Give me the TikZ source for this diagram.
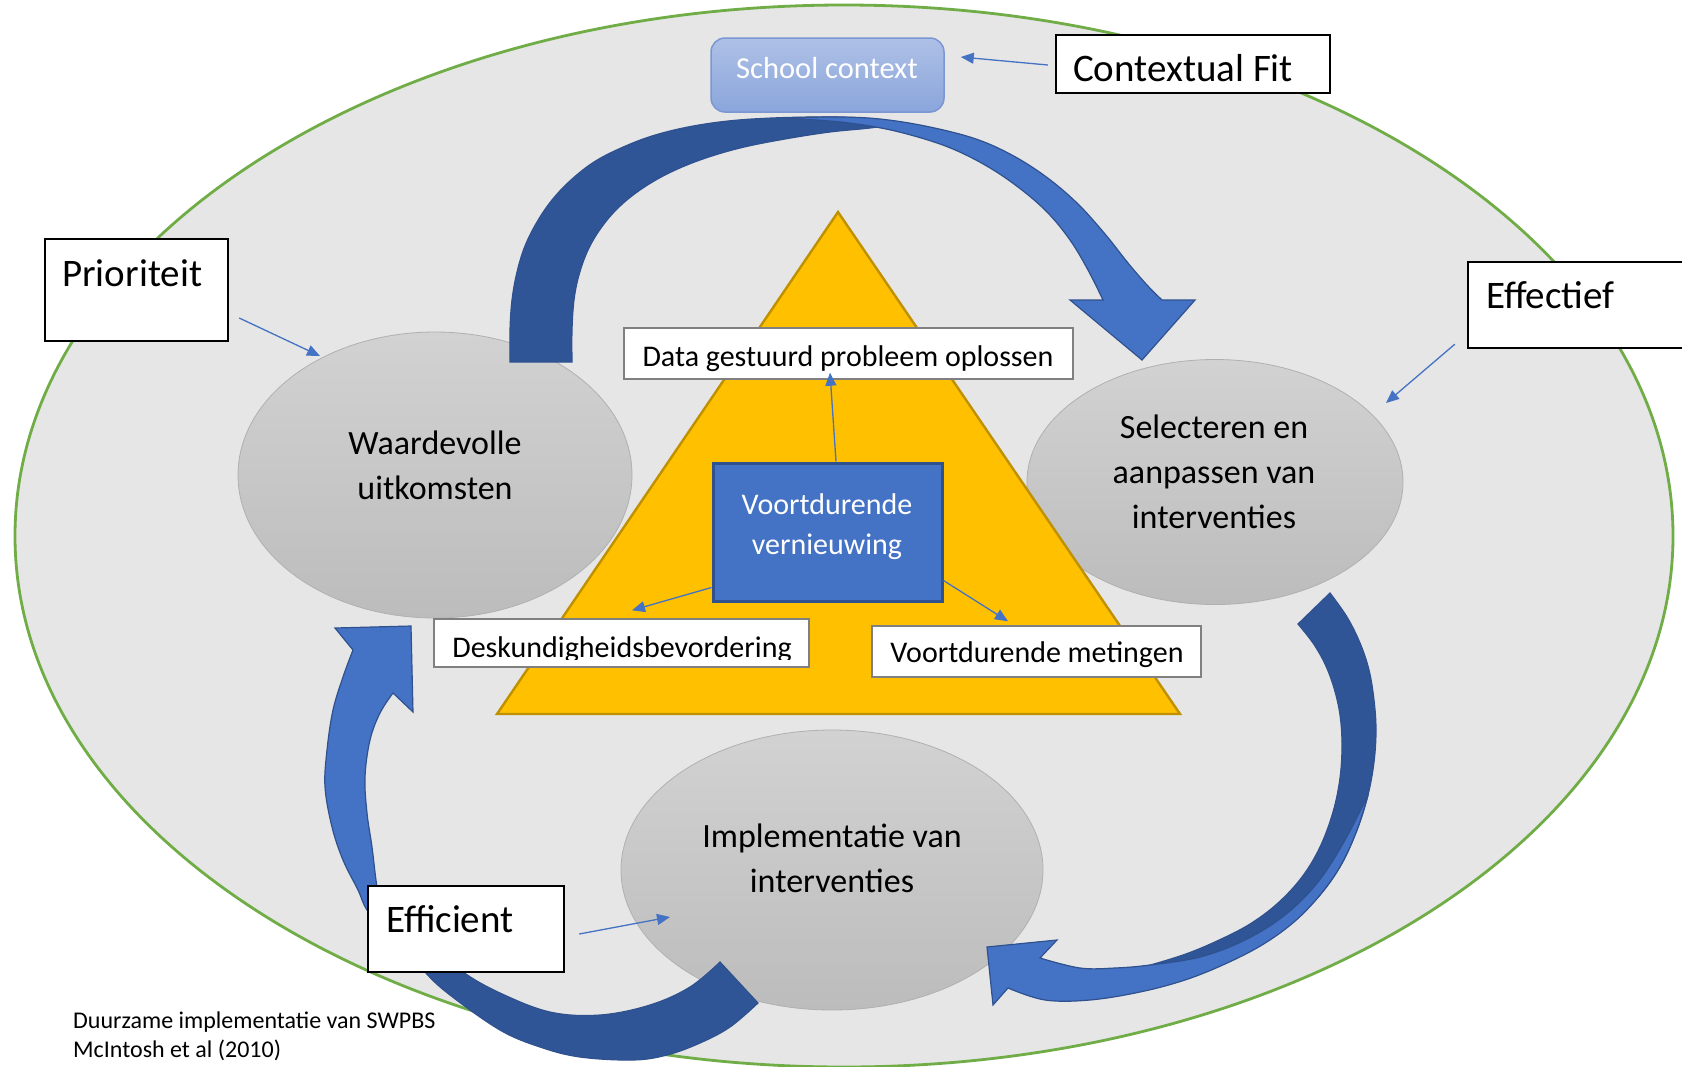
\documentclass[tikz,border=0pt]{standalone}
\usepackage{fontspec}
\setmainfont{Carlito}
\usetikzlibrary{shapes.geometric,arrows.meta,calc}
\definecolor{bgell}{HTML}{E7E6E6}
\definecolor{ellgreen}{HTML}{70AD47}
\definecolor{blueL}{HTML}{4472C4}
\definecolor{blueD}{HTML}{2F5597}
\definecolor{blueB}{HTML}{2F528F}
\definecolor{goldF}{HTML}{FFC000}
\definecolor{goldB}{HTML}{BF9000}
\definecolor{schoolT}{HTML}{AEC0E6}
\definecolor{schoolB}{HTML}{8AA6DB}
\definecolor{schoolD}{HTML}{7A97D3}
\definecolor{grayT}{HTML}{D2D2D2}
\definecolor{grayB}{HTML}{BCBCBC}
\definecolor{grayD}{HTML}{B0B0B0}
\definecolor{boxgray}{HTML}{808080}
\newcommand\myfs[2]{\fontsize{#1}{#2}\selectfont}
\begin{document}
\begin{tikzpicture}[x=1pt,y=-1pt,
  lbox/.style={draw=black, line width=2.4pt, fill=white, inner sep=0pt},
  wbox/.style={draw=boxgray, line width=1.4pt, fill=white, inner sep=0pt},
  gell/.style={ellipse, draw=grayD, line width=0.8pt, top color=grayT, bottom color=grayB, inner sep=0pt},
  ltxt/.style={font=\myfs{39}{47}, inner sep=0pt, text=black},
  etxt/.style={font=\myfs{34}{45}, align=center, inner sep=0pt, text=black},
  btxt/.style={font=\myfs{30}{40}, inner sep=0pt, text=black},
  sarr/.style={draw=blueL, line width=1.3pt, -{Triangle[length=13pt,width=11pt]}},
  bigL/.style={fill=blueL, draw=blueB, line width=1.2pt},
  bigD/.style={fill=blueD, draw=blueB, line width=1.2pt}]
\useasboundingbox (0,0) rectangle (1682,1066);
\clip (0,0) rectangle (1682,1066);
\fill[white] (0,0) rectangle (1682,1066);
% outer ellipse
\filldraw[fill=bgell, draw=ellgreen, line width=2.8pt] (844,536) ellipse [x radius=829pt, y radius=531pt];
% gray ellipses
\node[gell, minimum width=394pt, minimum height=286pt] (waard) at (435,475) {};
\node[gell, minimum width=376pt, minimum height=245pt] (sel) at (1215,482) {};
\node[gell, minimum width=422pt, minimum height=280pt] (impl) at (832,870) {};
\node[etxt] (waardtxt) at (435,465) {Waardevolle\\uitkomsten};
\node[etxt] (seltxt) at (1214,472) {Selecteren en\\aanpassen van\\interventies};
\node[etxt] (impltxt) at (832,858) {Implementatie van\\interventies};
% triangle
\filldraw[fill=goldF, draw=goldB, line width=2.4pt, line join=miter] (838,212) -- (1180,714) -- (497,714) -- cycle;
% big arrow A (top)
\filldraw[bigD] plot[smooth,tension=.6] coordinates {(510,362) (510,330) (512,300) (517,272) (525,246) (537,222) (552,200) (571,180) (594,162) (621,148) (652,136) (688,127) (728,121) (772,118) (820,117) (860,118) (905,123)}
  -- plot[smooth,tension=.6] coordinates {(905,123) (870,128) (830,132) (785,139) (740,148) (700,160) (667,174) (640,190) (618,208) (601,228) (588,250) (579,275) (574,300) (572,330) (572,362)} -- cycle;
\filldraw[bigL] plot[smooth,tension=.6] coordinates {(780,118) (838,117) (880,119) (925,126) (973,138) (1010,154) (1045,176) (1077,203) (1105,234) (1128,263) (1147,285) (1162,300)}
  -- (1195,300) -- (1142,360) -- (1070,300)
  -- plot[smooth,tension=.6] coordinates {(1103,300) (1088,270) (1070,240) (1047,212) (1018,187) (985,165) (948,147) (907,134) (870,126) (830,121) (780,118)} -- cycle;
% big arrow B (right)
\filldraw[bigD] plot[smooth,tension=.6] coordinates {(1330,593) (1347,617) (1360,643) (1369,670) (1374,700) (1376,730) (1374,762) (1368,795) (1357,830) (1341,865) (1320,895) (1294,920) (1262,940) (1225,956) (1180,965) (1140,968)}
  -- plot[smooth,tension=.6] coordinates {(1140,968) (1183,955) (1217,941) (1250,924) (1278,903) (1302,877) (1320,847) (1333,812) (1340,778) (1342,745) (1340,715) (1334,688) (1325,664) (1313,643) (1298,624)} -- cycle;
\filldraw[bigL] plot[smooth,tension=.6] coordinates {(1368,795) (1357,830) (1341,865) (1320,895) (1294,922) (1262,945) (1225,964) (1185,980) (1140,992) (1090,1000) (1045,1000) (1008,988)}
  -- (993,1005) -- (987,947) -- (1057,940)
  -- plot[smooth,tension=.6] coordinates {(1040,958) (1080,968) (1115,968) (1150,965) (1200,957) (1245,940) (1285,915) (1318,882) (1345,840) (1368,795)} -- cycle;
% big arrow C (bottom-left)
\filldraw[bigD] plot[smooth,tension=.6] coordinates {(758,1003) (730,1027) (700,1043) (667,1055) (633,1060) (580,1057) (540,1047) (500,1030) (450,995) (425,972) (405,945) (395,915)}
  -- plot[smooth,tension=.6] coordinates {(395,915) (440,950) (463,972) (500,993) (550,1012) (600,1015) (650,1005) (690,987) (720,962)} -- cycle;
\filldraw[bigL] plot[smooth,tension=.6] coordinates {(385,930) (367,910) (358,890) (343,860) (332,827) (325,787) (327,750) (333,710) (343,677) (353,650)}
  -- (335,628) -- (411,626) -- (413,712)
  -- plot[smooth,tension=.6] coordinates {(393,693) (380,713) (370,740) (365,777) (367,813) (372,847) (377,887) (385,930)} -- cycle;
% school context
\node[draw=schoolD, line width=1.5pt, rounded corners=14pt, top color=schoolT, bottom color=schoolB, minimum width=233pt, minimum height=74pt, inner sep=0pt] (school) at (827.5,75) {};
\node[font=\myfs{30.5}{36}, text=white, inner sep=0pt] (schooltxt) at (827,68) {School context};
% centre box
\node[fill=blueL, draw=blueB, line width=3pt, minimum width=229pt, minimum height=138pt, inner sep=0pt] (vern) at (827.5,532) {};
\node[font=\myfs{30}{40}, text=white, align=center, inner sep=0pt] (verntxt) at (827,526.5) {Voortdurende\\vernieuwing};
% white boxes
\node[wbox, minimum width=449pt, minimum height=51pt] (data) at (848.5,353.5) {};
\node[btxt, anchor=base] (datatxt) at (848,366) {Data gestuurd probleem oplossen};
\node[wbox, minimum width=375pt, minimum height=48pt] (desk) at (621.5,643) {};
\begin{scope}
\clip (434,619) rectangle (809,659);
\node[btxt, anchor=base] (desktxt) at (622,657) {Deskundigheidsbevordering};
\end{scope}
\node[wbox, minimum width=329pt, minimum height=51pt] (met) at (1036.5,651.5) {};
\node[btxt, anchor=base] (mettxt) at (1037,662) {Voortdurende metingen};
% label boxes
\node[lbox, minimum width=274pt, minimum height=58pt] (cfit) at (1193,64) {};
\node[ltxt, anchor=base west] (cfittxt) at (1073,81) {Contextual Fit};
\node[lbox, minimum width=183pt, minimum height=102pt] (prio) at (136.5,290) {};
\node[ltxt, anchor=base west] (priotxt) at (62,286) {Prioriteit};
\node[lbox, minimum width=240pt, minimum height=86pt] (eff) at (1588,305) {};
\node[ltxt, anchor=base west] (efftxt) at (1486,308) {Effectief};
\node[lbox, minimum width=196pt, minimum height=86pt] (effic) at (466,929) {};
\node[ltxt, anchor=base west] (effictxt) at (386,932) {Efficient};
% small arrows
\draw[sarr] ($(cfit.west)+(-7,1)$) -- ($(school.east)+(16,-18)$);
\draw[sarr] ($(prio.east)+(10,28)$) -- ($(waard.center)+(-115,-119)$);
\draw[sarr] ($(eff.south west)+(-12,-5)$) -- ($(sel.center)+(171,-79)$);
\draw[sarr] ($(effic.east)+(14,5)$) -- ($(impl.center)+(-162,47)$);
\draw[sarr] ($(vern.north)+(8.5,0)$) -- ($(data.south)+(-18.5,-7)$);
\draw[sarr] ($(vern.south west)+(0,-15)$) -- ($(desk.north)+(10.5,-8)$);
\draw[sarr] ($(vern.south east)+(0,-22)$) -- ($(met.north)+(-28.5,-4)$);
% footer
\node[font=\myfs{24}{29}, anchor=base west, inner sep=0pt] (foot1) at (73,1028) {Duurzame implementatie van SWPBS};
\node[font=\myfs{24}{29}, anchor=base west, inner sep=0pt] (foot2) at (73,1057) {McIntosh et al (2010)};
\end{tikzpicture}
\end{document}
